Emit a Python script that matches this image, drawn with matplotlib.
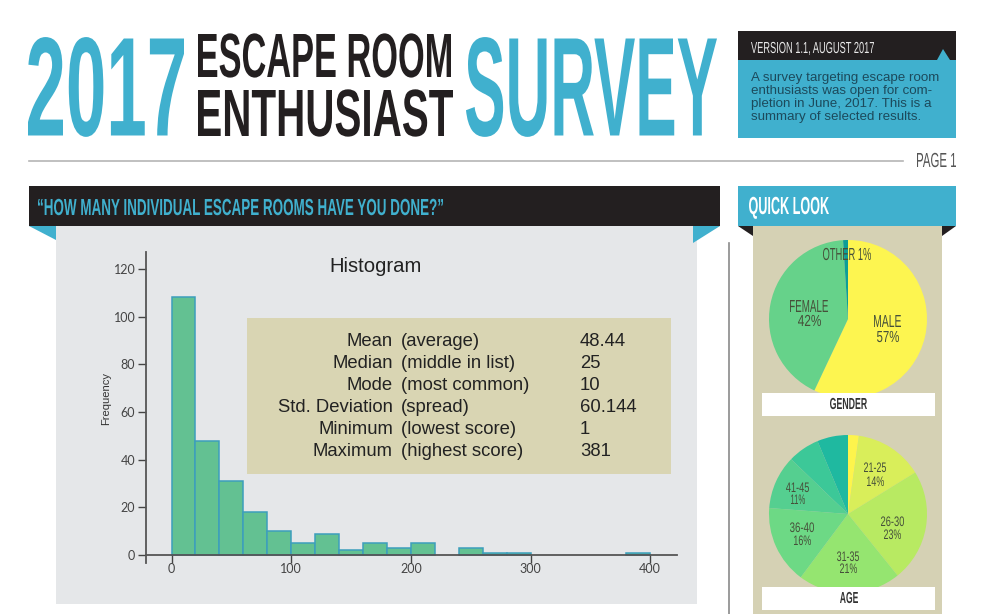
import matplotlib
matplotlib.use("Agg")
import matplotlib.pyplot as plt
from matplotlib.patches import Polygon, Rectangle
from matplotlib.patheffects import AbstractPathEffect
from matplotlib.textpath import TextPath
from matplotlib.font_manager import FontProperties

# histogram, 20 wide bins
bin_left = [0, 20, 40, 60, 80, 100, 120, 140, 160, 180, 200, 240, 260, 280, 380]
counts = [108, 48, 31, 18, 10, 5, 9, 2, 5, 3, 5, 3, 1, 1, 1]
x_ticks = [0, 100, 200, 300, 400]
y_ticks = [0, 20, 40, 60, 80, 100, 120]

stat_names = ["Mean", "Median", "Mode", "Std. Deviation", "Minimum", "Maximum"]
stat_notes = ["(average)", "(middle in list)", "(most common)", "(spread)",
              "(lowest score)", "(highest score)"]
stat_values = ["48.44", "25", "10", "60.144", "1", "381"]

gender_values = [57, 42, 1]
gender_colors = ["#FDF550", "#66D28A", "#0E9E96"]
age_values = [2.2, 14, 23, 21, 16, 11, 6.5, 6.3]
age_colors = ["#FDF44C", "#D9EE5A", "#B8EA62", "#95E570", "#6DD985", "#55CF90",
              "#3CC898", "#1FB9A0"]

BLUE = "#40B0CE"
BLACK = "#231F20"
FONT = "Liberation Sans"


class Tall(AbstractPathEffect):
    """Stretches a text upward from its baseline, no condensed font is installed"""
    def __init__(self, sy):
        super().__init__()
        self.sy = sy

    def draw_path(self, renderer, gc, tpath, affine, rgbFace=None):
        tall = affine.frozen()
        m = tall.get_matrix()
        m[1, 0] *= self.sy
        m[1, 1] *= self.sy
        renderer.draw_path(gc, tpath, tall, rgbFace)


def fit(ax, s, x0, x1, base, cap, color, weight="bold"):
    """Text from x0 to x1 in pixels, baseline at base, cap is the letter height"""
    prop = FontProperties(family=FONT, weight=weight)
    ext = TextPath((0, 0), s, size=100, prop=prop).get_extents()
    em = (x1 - x0) / ext.width * 100
    t = ax.text(x0 - ext.x0 / 100 * em, base, s, fontproperties=prop, fontsize=em * 0.72,
                color=color, ha="left", va="baseline")
    t.set_path_effects([Tall(cap / (0.688 * em))])
    return t


fig = plt.figure(figsize=(9.81, 6.14), dpi=100, facecolor="white")


def pixel_axes(z):
    a = fig.add_axes([0, 0, 1, 1], zorder=z)
    a.set_xlim(0, 981)
    a.set_ylim(614, 0)
    a.axis("off")
    return a


def box(a, x0, y0, x1, y1, color):
    a.add_patch(Rectangle((x0, y0), x1 - x0, y1 - y0, facecolor=color, edgecolor="none"))


def from_pixels(x0, y0, x1, y1):
    return [x0 / 981, 1 - y1 / 614, (x1 - x0) / 981, (y1 - y0) / 614]


bg = pixel_axes(0)
top = pixel_axes(3)

# header
fit(bg, "2017", 28, 184, 135.5, 97, BLUE)
fit(bg, "ESCAPE ROOM", 198, 451, 77, 43, BLACK)
fit(bg, "ENTHUSIAST", 198, 453, 136, 46, BLACK)
fit(bg, "SURVEY", 466, 717, 135.5, 97, BLUE)

box(bg, 738, 31, 956, 60, BLACK)
box(bg, 738, 60, 956, 138, BLUE)
bg.add_patch(Polygon([(937, 60), (943, 49), (950, 60)], facecolor=BLUE, edgecolor="none"))
fit(bg, "VERSION 1.1, AUGUST 2017", 751, 874, 53, 11, "#E8E8E8", "normal")
desc = ["A survey targeting escape room", "enthusiasts was open for com-",
        "pletion in June, 2017. This is a", "summary of selected results."]
for i, line in enumerate(desc):
    bg.text(751, 80.5 + i * 13.2, line, family=FONT, fontsize=9.6, color="#1C4A5C", va="baseline")

bg.plot([29, 903], [161, 161], color="#B5B5B5", lw=1.2)
fit(bg, "PAGE 1", 917, 956, 167, 14, "#555555", "normal")

# left panel
box(bg, 56, 226, 697, 604, "#E5E7E9")
box(bg, 29, 186, 720, 226, BLACK)
bg.add_patch(Polygon([(29, 226), (56, 226), (56, 240)], facecolor=BLUE, edgecolor="none"))
bg.add_patch(Polygon([(693, 226), (720, 226), (693, 243)], facecolor=BLUE, edgecolor="none"))
fit(bg, "\u201cHOW MANY INDIVIDUAL ESCAPE ROOMS HAVE YOU DONE?\u201d", 38, 443, 215, 16, BLUE)
bg.plot([729, 729], [243, 614], color="#8A8A8A", lw=1.2)

# right panel
box(bg, 753, 226, 942, 614, "#D5D1B4")
box(bg, 738, 186, 956, 226, BLUE)
bg.add_patch(Polygon([(738, 226), (753, 226), (753, 236)], facecolor=BLACK, edgecolor="none"))
bg.add_patch(Polygon([(942, 226), (956, 226), (942, 236)], facecolor=BLACK, edgecolor="none"))
fit(bg, "QUICK LOOK", 749, 829, 214, 17, "white")

# histogram
ax = fig.add_axes(from_pixels(145.7, 252, 677, 563), zorder=1)
ax.patch.set_alpha(0)
ax.bar(bin_left, counts, width=20, align="edge", facecolor="#63C192", edgecolor="#3C9FBC", linewidth=1.1)
ax.set_xlim(-21.6, 422.4)
ax.set_ylim(-3.35, 127.05)
ax.set_xticks(x_ticks)
ax.set_yticks(y_ticks)
ax.spines["top"].set_visible(False)
ax.spines["right"].set_visible(False)
ax.spines["bottom"].set_position(("data", 0))
for side in ["left", "bottom"]:
    ax.spines[side].set_color("#555555")
    ax.spines[side].set_linewidth(1.3)
ax.tick_params(axis="both", length=6, width=1, color="#444444", labelcolor="#444444", labelsize=9)
ax.tick_params(axis="y", pad=1.5)
ax.tick_params(axis="x", pad=0)
for lab in ax.get_xticklabels() + ax.get_yticklabels():
    lab.set_family("Lato")
ax.set_ylabel("Frequency", fontsize=8, family=FONT, color="#333333")
ax.yaxis.set_label_coords(-0.065, 0.53)

top.text(376, 266, "Histogram", family=FONT, fontsize=14.6, color="#222222", ha="center", va="center")
box(top, 247, 318, 671, 474, "#D9D5B3")
for i in range(len(stat_names)):
    y = 342 + i * 22
    top.text(393, y, stat_names[i], family=FONT, fontsize=13.3, color="#222222", ha="right", va="center")
    top.text(401, y, stat_notes[i], family=FONT, fontsize=13.3, color="#222222", ha="left", va="center")
    top.text(580, y, stat_values[i], family=FONT, fontsize=13.3, color="#222222", ha="left", va="center")

# gender pie
pg = fig.add_axes(from_pixels(769, 240, 927, 398), zorder=1)
pg.pie(gender_values, colors=gender_colors, startangle=90, counterclock=False, radius=1.0)
pg.set_xlim(-1, 1)
pg.set_ylim(-1, 1)

# age pie
pa = fig.add_axes(from_pixels(769, 435, 927, 593), zorder=1)
pa.pie(age_values, colors=age_colors, startangle=90, counterclock=False, radius=1.0)
pa.set_xlim(-1, 1)
pa.set_ylim(-1, 1)

box(top, 762, 393, 935, 416, "white")
box(top, 762, 587, 935, 610, "white")
fit(top, "GENDER", 830, 867, 409, 11, "#333333")
fit(top, "AGE", 840, 858, 603, 11, "#333333")

PIE_TEXT = "#46503A"
fit(top, "OTHER 1%", 823, 871, 260, 12, PIE_TEXT, "normal")
fit(top, "FEMALE", 790, 828, 312, 12, PIE_TEXT, "normal")
fit(top, "42%", 798, 821, 326, 11, PIE_TEXT, "normal")
fit(top, "MALE", 874, 901, 327, 12, PIE_TEXT, "normal")
fit(top, "57%", 877, 899, 342, 11, PIE_TEXT, "normal")

fit(top, "21-25", 864, 886, 472, 9.5, PIE_TEXT, "normal")
fit(top, "14%", 867, 884, 486, 9.5, PIE_TEXT, "normal")
fit(top, "26-30", 881, 904, 526, 9.5, PIE_TEXT, "normal")
fit(top, "23%", 884, 901, 539, 9.5, PIE_TEXT, "normal")
fit(top, "31-35", 837, 859, 561, 9.5, PIE_TEXT, "normal")
fit(top, "21%", 840, 857, 573, 9.5, PIE_TEXT, "normal")
fit(top, "36-40", 790, 814, 532, 9.5, PIE_TEXT, "normal")
fit(top, "16%", 794, 811, 545, 9.5, PIE_TEXT, "normal")
fit(top, "41-45", 786, 809, 492, 9.5, PIE_TEXT, "normal")
fit(top, "11%", 791, 805, 504, 9.5, PIE_TEXT, "normal")

fig.savefig("out.png", dpi=100)
